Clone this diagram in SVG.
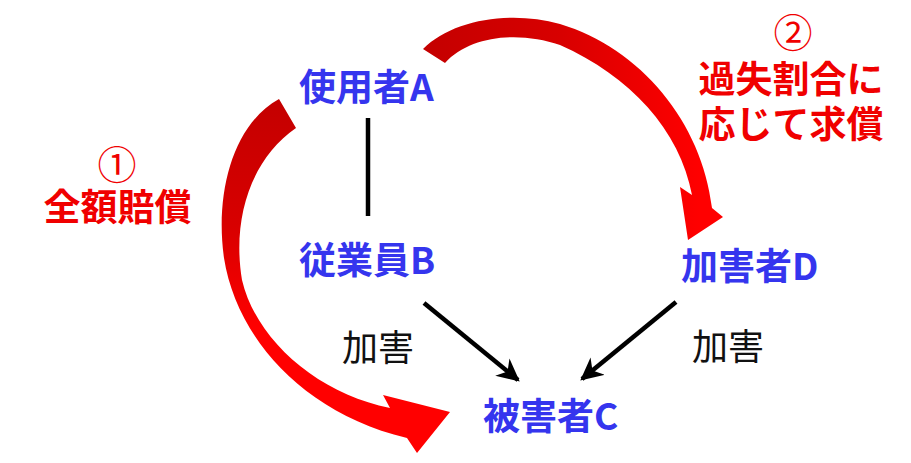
<svg xmlns="http://www.w3.org/2000/svg" width="911" height="463" viewBox="0 0 911 463">
<style>
.node{font-family:"Noto Sans CJK JP","Noto Sans",sans-serif;font-weight:bold;font-size:37px;fill:#3535EE}
.lbl{font-family:"Noto Sans CJK JP","Noto Sans",sans-serif;font-size:36px;fill:#111}
.red{font-family:"Noto Sans CJK JP","Noto Sans",sans-serif;font-weight:bold;font-size:37px;fill:#F00000;text-anchor:middle}
.circ{font-family:"Noto Sans CJK JP","Noto Sans",sans-serif;font-size:39px;fill:#F00000;text-anchor:middle}
.edge{stroke:#000;stroke-width:4.5;fill:none}
</style>
<defs>
<marker id="ah" viewBox="0 0 10 10" refX="9" refY="5" markerWidth="5" markerHeight="5" orient="auto" markerUnits="strokeWidth">
<path d="M0,0 L10,5 L0,10 L3,5 Z" fill="#000"/>
</marker>
<linearGradient id="gL" x1="0" y1="100" x2="0" y2="330" gradientUnits="userSpaceOnUse">
<stop offset="0" stop-color="#C40000"/><stop offset="0.55" stop-color="#D80000"/><stop offset="1" stop-color="#FF0000"/>
</linearGradient>
<linearGradient id="gT" x1="423" y1="0" x2="700" y2="0" gradientUnits="userSpaceOnUse">
<stop offset="0" stop-color="#C40000"/><stop offset="0.5" stop-color="#D80000"/><stop offset="1" stop-color="#FF0000"/>
</linearGradient>
</defs>
<g id="connectors">
<line class="edge" x1="368" y1="118" x2="368" y2="216"/>
<line class="edge" x1="424" y1="303" x2="518" y2="380" marker-end="url(#ah)"/>
<line class="edge" x1="676" y1="302" x2="582" y2="379" marker-end="url(#ah)"/>
<path id="arrow1" fill="url(#gL)" d="M279,99 C232,125 215,195 224,258 C236,335 300,412 407,438 L417,453 L450,412 L383,395 L390,408 C318,394 256,340 242,280 C232,220 250,160 296,128 Z"/>
<path id="arrow2" fill="url(#gT)" d="M423,49 C452,20 510,10 560,24 C640,48 702,122 712,208 L723,217 L688,240 L680,187 L692,195 C680,130 630,76 560,45 C520,31 470,35 445,63 Z"/>
</g>
<g id="nodeA"><text class="node" x="299" y="100.5">使用者A</text></g>
<g id="nodeB"><text class="node" x="299" y="274">従業員B</text></g>
<g id="nodeC"><text class="node" x="483" y="430">被害者C</text></g>
<g id="nodeD"><text class="node" x="681" y="280">加害者D</text></g>
<g id="label1"><text class="lbl" x="342" y="361">加害</text></g>
<g id="label2"><text class="lbl" x="692" y="360">加害</text></g>
<g id="note1">
<text class="circ" x="117" y="179">①</text>
<text class="red" x="117.5" y="221">全額賠償</text>
</g>
<g id="note2">
<text class="circ" x="793" y="47">②</text>
<text class="red" x="791" y="93">過失割合に</text>
<text class="red" x="791" y="138">応じて求償</text>
</g>
</svg>
